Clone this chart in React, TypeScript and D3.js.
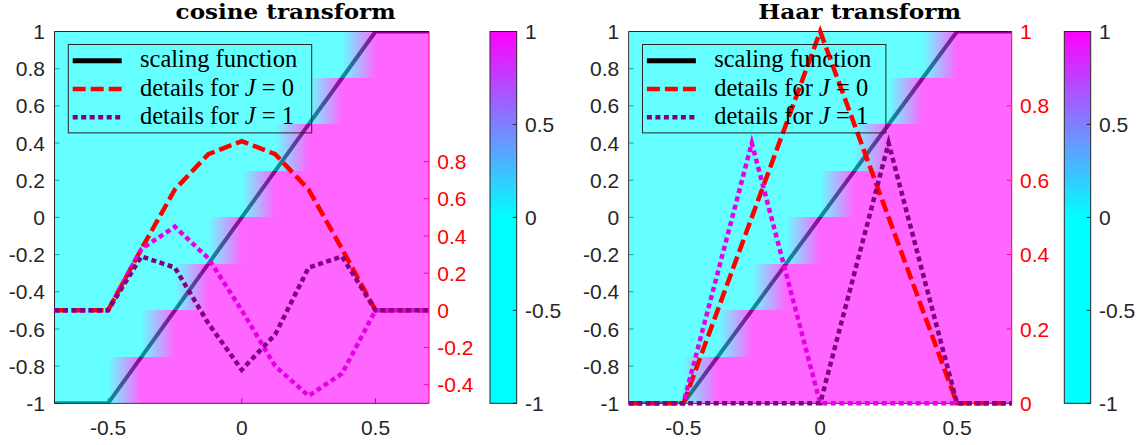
import React from 'react';
import * as d3 from 'd3';

// ---------- data ----------
const xGrid = [-0.7, -0.5, -0.375, -0.25, -0.125, 0, 0.125, 0.25, 0.375, 0.5, 0.7];
const scalingFn = [-1, -1, -0.75, -0.5, -0.25, 0, 0.25, 0.5, 0.75, 1, 1];

const cosJ0 = [0, 0, 0.33, 0.65, 0.84, 0.91, 0.84, 0.65, 0.33, 0, 0];
const cosJ1a = [0, 0, 0.29, 0.23, -0.07, -0.32, -0.13, 0.23, 0.29, 0, 0];
const cosJ1b = [0, 0, 0.33, 0.45, 0.28, 0.0, -0.3, -0.46, -0.34, 0, 0];

const haarJ0 = [0, 0, 0.25, 0.5, 0.75, 1, 0.75, 0.5, 0.25, 0, 0];
const haarJ1a = [0, 0, 0, 0, 0, 0, 0.35, 0.7, 0.35, 0, 0];
const haarJ1b = [0, 0, 0.35, 0.7, 0.35, 0, 0, 0, 0, 0, 0];

const bgRowEdges = [-1, -0.75, -0.5, -0.25, 0, 0.25, 0.5, 0.75, 1];
const bgRampStart = [-0.5, -0.375, -0.25, -0.125, 0, 0.125, 0.25, 0.375];
const bgRampWidth = 0.125;

const xTicks = [-0.5, 0, 0.5];
const yTicksLeft = [-1, -0.8, -0.6, -0.4, -0.2, 0, 0.2, 0.4, 0.6, 0.8, 1];
const cosRightTicks = [-0.4, -0.2, 0, 0.2, 0.4, 0.6, 0.8];
const haarRightTicks = [0, 0.2, 0.4, 0.6, 0.8, 1];
const cbTicks = [-1, -0.5, 0, 0.5, 1];
const legendLabels = ['scaling function', 'details for J = 0', 'details for J = 1'];
const titles = ['cosine transform', 'Haar transform'];

// ---------- style ----------
const CYAN = 'rgb(0,255,255)';
const MAGENTA = 'rgb(255,0,255)';
const PURPLE = '#800080';
const MAG_LINE = '#e600e6';
const AX = '#262626';
const SANS = '"Liberation Sans", Arial, sans-serif';
const SERIF = '"Liberation Serif", "Times New Roman", serif';
const TFONT = '"DejaVu Serif", serif';
const fmt = (v: number) => String(Math.round(v * 10) / 10);

const Y0 = 31.5;
const Y1 = 403.3;

const panels = [
  {
    id: 'p0', title: titles[0], titleW: 220, x0: 54.5, x1: 429, cb0: 490, cb1: 516.7,
    rDomain: [-0.5, 1.5], rTicks: cosRightTicks,
    j0: cosJ0, j1a: cosJ1a, j1b: cosJ1b,
  },
  {
    id: 'p1', title: titles[1], titleW: 203, x0: 628.7, x1: 1011.7, cb0: 1064.3, cb1: 1090.7,
    rDomain: [0, 1], rTicks: haarRightTicks,
    j0: haarJ0, j1a: haarJ1a, j1b: haarJ1b,
  },
];

function LegendText({ label, x, y }: { label: string; x: number; y: number }) {
  const i = label.indexOf('J');
  if (i < 0) return <text x={x} y={y} fontFamily={SERIF} fontSize={24.5} fill="#000">{label}</text>;
  return (
    <text x={x} y={y} fontFamily={SERIF} fontSize={24.5} fill="#000" xmlSpace="preserve">
      {label.slice(0, i)}
      <tspan fontStyle="italic">J</tspan>
      {label.slice(i + 1)}
    </text>
  );
}

function Panel({ p }: { p: typeof panels[number] }) {
  const xs = d3.scaleLinear().domain([-0.7, 0.7]).range([p.x0, p.x1]);
  const yL = d3.scaleLinear().domain([-1, 1]).range([Y1, Y0]);
  const yR = d3.scaleLinear().domain(p.rDomain).range([Y1, Y0]);
  const cbY = d3.scaleLinear().domain([-1, 1]).range([Y1, Y0]);
  const lineL = d3.line<number>().x((_, i) => xs(xGrid[i])).y((d) => yL(d));
  const lineR = d3.line<number>().x((_, i) => xs(xGrid[i])).y((d) => yR(d));
  const tl = 5;
  const lgX = p.x0 + 13.8;
  const lgY = 44.5;
  const rows = [60.7, 89, 117.3];
  return (
    <g>
      <defs>
        <clipPath id={`clip-${p.id}`}>
          <rect x={p.x0} y={Y0} width={p.x1 - p.x0} height={Y1 - Y0} />
        </clipPath>
        <linearGradient id={`ramp-${p.id}`} x1="0" x2="1" y1="0" y2="0">
          <stop offset="0" stopColor={CYAN} />
          <stop offset="1" stopColor={MAGENTA} />
        </linearGradient>
        <linearGradient id={`cb-${p.id}`} x1="0" x2="0" y1="1" y2="0">
          <stop offset="0" stopColor={CYAN} />
          <stop offset="0.5" stopColor={CYAN} />
          <stop offset="1" stopColor={MAGENTA} />
        </linearGradient>
      </defs>

      {/* axes box and ticks (beneath translucent image) */}
      <line x1={p.x0} x2={p.x1} y1={Y1} y2={Y1} stroke={AX} strokeWidth={1} />
      <line x1={p.x0} x2={p.x1} y1={Y0} y2={Y0} stroke={AX} strokeWidth={1} />
      <line x1={p.x0} x2={p.x0} y1={Y0} y2={Y1} stroke={AX} strokeWidth={1} />
      <line x1={p.x1} x2={p.x1} y1={Y0} y2={Y1} stroke="#ff0000" strokeWidth={1} />
      {yTicksLeft.map((t) => (
        <line key={`yl${t}`} x1={p.x0} x2={p.x0 + tl} y1={yL(t)} y2={yL(t)} stroke={AX} />
      ))}
      {p.rTicks.map((t) => (
        <line key={`yr${t}`} x1={p.x1} x2={p.x1 - tl} y1={yR(t)} y2={yR(t)} stroke="#ff0000" />
      ))}
      {xTicks.map((t) => (
        <line key={`xt${t}`} x1={xs(t)} x2={xs(t)} y1={Y1} y2={Y1 - tl} stroke={AX} />
      ))}

      {/* scaling function (beneath image) */}
      <path d={lineL(scalingFn) || ''} fill="none" stroke="#000" strokeWidth={4}
        clipPath={`url(#clip-${p.id})`} />

      {/* translucent background image */}
      <g opacity={0.6} shapeRendering="crispEdges">
        {bgRampStart.map((s, i) => {
          const yt = Math.round(yL(bgRowEdges[i + 1]));
          const yb = Math.round(yL(bgRowEdges[i]));
          const h = yb - yt;
          const xa = Math.round(xs(-0.7));
          const xb = Math.round(xs(s));
          const xc = Math.round(xs(s + bgRampWidth));
          const xd = Math.round(xs(0.7));
          return (
            <g key={`bg${i}`}>
              <rect x={xa} y={yt} width={xb - xa} height={h} fill={CYAN} />
              <rect x={xb} y={yt} width={xc - xb} height={h} fill={`url(#ramp-${p.id})`} />
              <rect x={xc} y={yt} width={xd - xc} height={h} fill={MAGENTA} />
            </g>
          );
        })}
      </g>

      {/* detail curves */}
      <path d={lineR(p.j0) || ''} fill="none" stroke="#ff0000" strokeWidth={4.5}
        strokeDasharray="13 5" />
      <path d={lineR(p.j1b) || ''} fill="none" stroke={MAG_LINE} strokeWidth={4.5}
        strokeDasharray="5 3.5" />
      <path d={lineR(p.j1a) || ''} fill="none" stroke={PURPLE} strokeWidth={4.5}
        strokeDasharray="5 3.5" />

      {/* legend */}
      <rect x={lgX} y={lgY} width={243.4} height={88.4} fill="none" stroke={AX} strokeWidth={1} />
      <line x1={lgX + 4.4} x2={lgX + 53.4} y1={rows[0]} y2={rows[0]} stroke="#000" strokeWidth={5} />
      <line x1={lgX + 4.4} x2={lgX + 53.4} y1={rows[1]} y2={rows[1]} stroke="#ff0000" strokeWidth={4.5}
        strokeDasharray="13 5" />
      <line x1={lgX + 4.4} x2={lgX + 53.4} y1={rows[2]} y2={rows[2]} stroke={PURPLE} strokeWidth={4.5}
        strokeDasharray="5 3.5" />
      {legendLabels.map((l, i) => (
        <LegendText key={l} label={l} x={lgX + 71.7} y={rows[i] + 6.5} />
      ))}

      {/* tick labels */}
      {yTicksLeft.map((t) => (
        <text key={`yll${t}`} x={p.x0 - 9.5} y={yL(t)} dy="0.36em" textAnchor="end"
          fontFamily={SANS} fontSize={21} fill={AX}>{fmt(t)}</text>
      ))}
      {p.rTicks.map((t) => (
        <text key={`yrl${t}`} x={p.x1 + 8.3} y={yR(t)} dy="0.36em" textAnchor="start"
          fontFamily={SANS} fontSize={21} fill="#ff0000">{fmt(t)}</text>
      ))}
      {xTicks.map((t) => (
        <text key={`xl${t}`} x={xs(t)} y={435} textAnchor="middle"
          fontFamily={SANS} fontSize={21} fill={AX}>{fmt(t)}</text>
      ))}

      {/* colorbar */}
      <rect x={p.cb0} y={Y0} width={p.cb1 - p.cb0} height={Y1 - Y0} fill={`url(#cb-${p.id})`}
        stroke={AX} strokeWidth={1} />
      {cbTicks.map((t) => (
        <g key={`cb${t}`}>
          <line x1={p.cb1} x2={p.cb1 - 4} y1={cbY(t)} y2={cbY(t)} stroke={AX} />
          <text x={p.cb1 + 8.3} y={cbY(t)} dy="0.36em" fontFamily={SANS} fontSize={21} fill={AX}>
            {fmt(t)}
          </text>
        </g>
      ))}

      {/* title */}
      <text x={(p.x0 + p.cb1) / 2} y={19} textAnchor="middle" fontFamily={TFONT}
        fontWeight="bold" fontSize={20} fill="#000" textLength={p.titleW}
        lengthAdjust="spacingAndGlyphs">{p.title}</text>
    </g>
  );
}

export default function App() {
  return (
    <svg width={1148} height={445} style={{ position: 'absolute', left: 0, top: 0, background: '#fff' }}>
      <rect x={0} y={0} width={1148} height={445} fill="#fff" />
      {panels.map((p) => (
        <Panel key={p.id} p={p} />
      ))}
    </svg>
  );
}
